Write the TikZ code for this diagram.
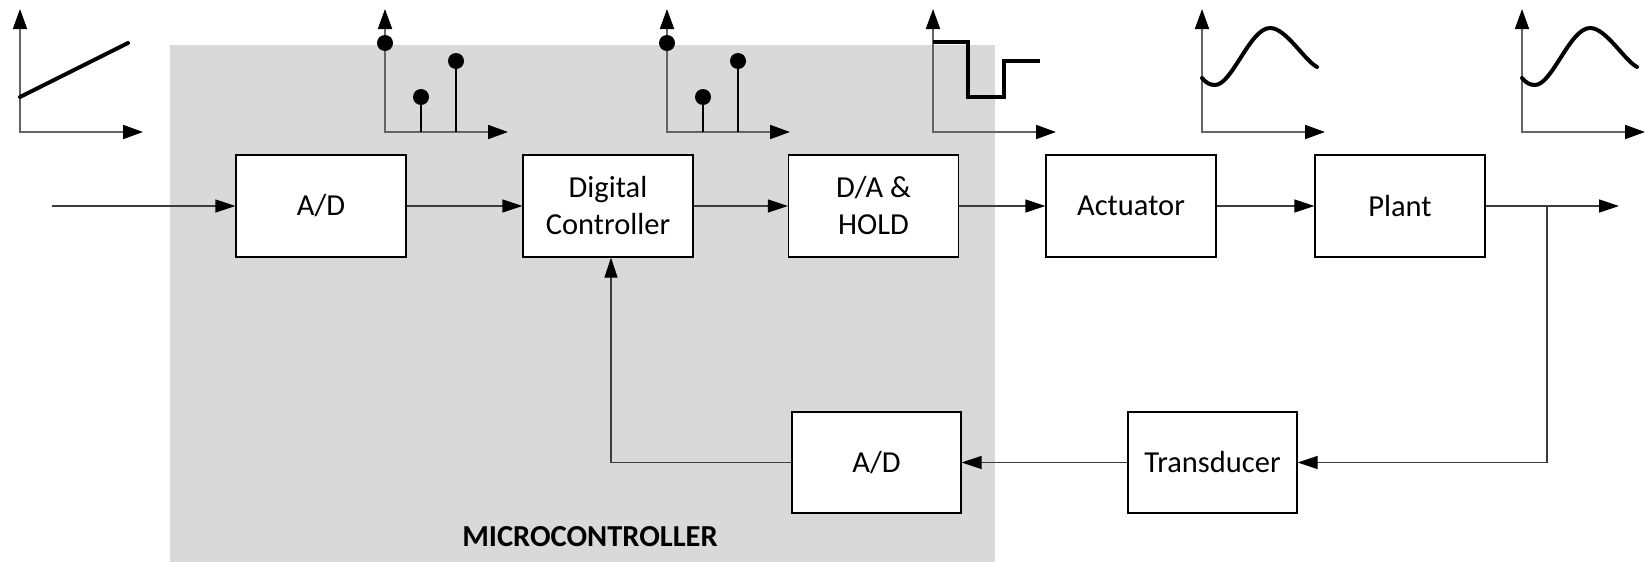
\documentclass[tikz,border=0pt]{standalone}
\usepackage{fontspec}
\setmainfont{Carlito}
\usetikzlibrary{arrows.meta}
\definecolor{mcgray}{RGB}{217,217,217}
\definecolor{wirec}{RGB}{60,60,60}
\definecolor{axisc}{RGB}{100,100,100}
\begin{document}
\begin{tikzpicture}[x=1pt,y=-1pt,
  blk/.style={draw=black, line width=1.3pt, fill=white, minimum width=170pt, minimum height=102pt, inner sep=0pt, align=center, font=\fontsize{30.5}{37}\selectfont},
  lblk/.style={blk, minimum width=169pt, minimum height=101pt},
  conn/.style={line width=1.3pt, draw=wirec, -{Triangle[length=20pt,width=13pt,color=black]}},
  axes/.style={line width=1.8pt, draw=axisc, {Triangle[length=20pt,width=14pt,color=black]}-{Triangle[length=20pt,width=14pt,color=black]}},
  sig/.style={line width=4pt, draw=black, line cap=round, line join=round},
  stem/.style={line width=1.5pt, draw=black},
  dotc/.style={fill=black}
]
\useasboundingbox (0,0) rectangle (1648,562);
\fill[mcgray] (170,45) rectangle (995,562);

% graphs
\foreach \x in {20,385,667,933,1202,1522}{
  \draw[axes] (\x,9) -- (\x,132) -- (\x+123,132);
}
% graph 1: ramp
\draw[sig] (20,97) -- (128,43);
% graphs 2,3: samples
\foreach \x in {385,667}{
  \draw[stem] (\x+36,132) -- (\x+36,97);
  \draw[stem] (\x+71,132) -- (\x+71,61);
  \fill[dotc] (\x,43) circle (8pt);
  \fill[dotc] (\x+36,97) circle (8pt);
  \fill[dotc] (\x+71,61) circle (8pt);
}
% graph 4: hold
\draw[sig, line cap=butt, line join=miter] (933,42) -- (968,42) -- (968,97) -- (1004,97) -- (1004,61) -- (1040,61);
% graphs 5,6: smooth
\foreach \x in {1202,1522}{
  \draw[sig] (\x,78) .. controls (\x+4,83) and (\x+8,85) .. (\x+13,85)
    .. controls (\x+30,85) and (\x+48,28) .. (\x+68,28)
    .. controls (\x+84,28) and (\x+102,60) .. (\x+115,67);
}

% blocks
\node[blk] (ad1) at (321,206) {A/D};
\node[blk] (dc) at (608,206) {Digital\\Controller};
\node[blk] (da) at (873.5,206) {D/A \&\\HOLD};
\node[blk] (act) at (1131,206) {Actuator};
\node[blk] (plant) at (1400,206) {Plant};
\node[lblk] (ad2) at (876.5,462.5) {A/D};
\node[lblk] (tr) at (1212.5,462.5) {Transducer};
\node[font=\fontsize{30.5}{37}\selectfont\bfseries] (mc) at (590,537) {MICROCONTROLLER};

\coordinate (in) at (52,206);
\coordinate (out) at (1619,206);
\coordinate (br) at (1547,206);

\draw[conn] (in) -- (ad1);
\draw[conn] (ad1) -- (dc);
\draw[conn] (dc) -- (da);
\draw[conn] (da) -- (act);
\draw[conn] (act) -- (plant);
\draw[conn] (plant) -- (out);
\draw[conn] (br) |- (tr.east);
\draw[conn] (tr) -- (ad2);
\draw[conn] (ad2.west) -| ([xshift=3pt]dc.south);
\end{tikzpicture}
\end{document}
